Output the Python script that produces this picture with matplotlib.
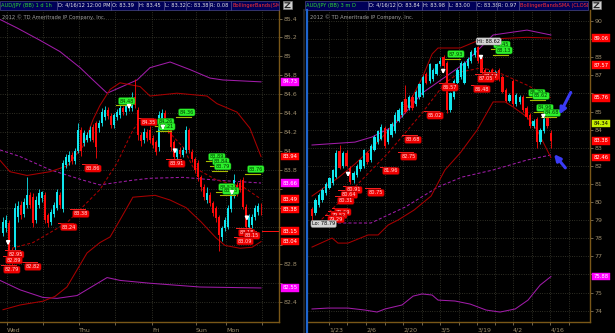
import numpy as np
import matplotlib.pyplot as plt
from matplotlib.patches import Rectangle
from matplotlib.lines import Line2D
from matplotlib.ticker import FuncFormatter

W, H = 615, 333

# ---------------- left chart: AUD/JPY 1 d 1h ----------------
l_open = [83.13, 83.18, 83.24, 82.94, 82.98, 83.30, 83.43, 83.33, 83.43, 83.53,
          83.51, 83.27, 83.43, 83.50, 83.53, 83.32, 83.25, 83.33, 83.40, 83.53,
          83.38, 83.85, 83.88, 83.96, 83.89, 84.00, 84.22, 84.08, 84.12, 84.14,
          84.25, 84.29, 84.24, 84.29, 84.36, 84.43, 84.37, 84.27, 84.36, 84.38,
          84.45, 84.41, 84.45, 84.45, 84.57, 84.43, 84.17, 84.12, 84.20, 84.22,
          84.14, 84.09, 84.04, 84.25, 84.40, 84.27, 84.22, 84.09, 83.93, 84.01,
          83.96, 84.01, 84.22, 83.99, 83.91, 83.87, 83.72, 83.62, 83.48, 83.53,
          83.45, 83.40, 83.30, 83.09, 83.18, 83.20, 83.38, 83.53, 83.64, 83.66,
          83.69, 83.41, 83.19, 83.22, 83.30, 83.35, 83.39]
l_high = [83.30, 83.32, 83.27, 82.97, 83.45, 83.47, 83.47, 83.50, 83.72, 83.56,
          83.55, 83.52, 83.60, 83.58, 83.57, 83.34, 83.38, 83.46, 83.60, 83.56,
          83.90, 83.97, 84.00, 83.99, 84.03, 84.30, 84.25, 84.22, 84.20, 84.26,
          84.28, 84.32, 84.33, 84.45, 84.47, 84.46, 84.40, 84.40, 84.44, 84.48,
          84.47, 84.50, 84.57, 84.62, 84.76, 84.46, 84.20, 84.24, 84.23, 84.26,
          84.17, 84.12, 84.42, 84.44, 84.43, 84.30, 84.25, 84.12, 84.03, 84.04,
          84.04, 84.26, 84.24, 84.02, 83.94, 83.90, 83.75, 83.65, 83.62, 83.56,
          83.47, 83.42, 83.32, 83.21, 83.30, 83.43, 83.62, 83.76, 83.67, 83.70,
          83.72, 83.44, 83.33, 83.33, 83.43, 83.45, 83.45]
l_low = [83.10, 83.14, 82.80, 82.78, 82.95, 83.25, 83.28, 83.30, 83.40, 83.40,
         83.20, 83.24, 83.40, 83.46, 83.24, 83.20, 83.22, 83.30, 83.37, 83.40,
         83.35, 83.82, 83.85, 83.86, 83.86, 83.98, 83.95, 84.05, 84.09, 84.10,
         84.09, 83.92, 84.20, 84.26, 84.33, 84.34, 84.24, 84.24, 84.33, 84.35,
         84.38, 84.38, 84.42, 84.42, 84.45, 84.12, 84.05, 84.08, 84.10, 84.08,
         84.03, 83.96, 84.00, 84.22, 84.24, 84.19, 84.00, 83.90, 83.90, 83.94,
         83.93, 83.98, 83.98, 83.88, 83.77, 83.68, 83.58, 83.48, 83.45, 83.42,
         83.31, 83.25, 82.94, 83.05, 83.15, 83.17, 83.35, 83.50, 83.52, 83.56,
         83.38, 83.13, 83.15, 83.18, 83.27, 83.32, 83.32]
l_close = [83.25, 83.27, 82.93, 82.86, 83.40, 83.42, 83.32, 83.46, 83.53, 83.43,
           83.24, 83.48, 83.55, 83.56, 83.27, 83.24, 83.35, 83.43, 83.56, 83.43,
           83.87, 83.93, 83.96, 83.89, 84.00, 84.22, 84.00, 84.19, 84.17, 84.22,
           84.12, 84.04, 84.29, 84.41, 84.43, 84.37, 84.27, 84.38, 84.41, 84.45,
           84.41, 84.47, 84.54, 84.57, 84.49, 84.17, 84.10, 84.20, 84.14, 84.12,
           84.06, 83.99, 84.38, 84.40, 84.27, 84.22, 84.04, 83.93, 84.01, 83.97,
           84.01, 84.22, 84.01, 83.91, 83.80, 83.72, 83.62, 83.51, 83.55, 83.45,
           83.34, 83.29, 83.11, 83.18, 83.27, 83.40, 83.59, 83.69, 83.55, 83.59,
           83.41, 83.20, 83.30, 83.30, 83.40, 83.42, 83.38]

l_days = ["Wed", "Thu", "Fri", "Sun", "Mon"]
l_day_pos = [1.3, 25.3, 49.7, 64.3, 74.3]
l_half_pos = [13.3, 37.3, 86.3]

# bollinger bands (bar index, price)
l_red_up_i = [-1, 2.3, 8, 15.7, 21.3, 26.7, 30, 32.3, 35.7, 39, 45.7, 49, 58, 68, 71.3, 78, 82.3, 86]
l_red_up_p = [83.90, 83.78, 83.74, 83.78, 83.84, 84.05, 84.33, 84.48, 84.65, 84.72, 84.68, 84.58,
              84.61, 84.58, 84.50, 84.41, 84.24, 83.94]
l_red_mid_i = [3, 10, 21.3, 32.3, 38, 43.3, 46, 50, 54.7, 60, 63.3, 71.3, 80, 86]
l_red_mid_p = [82.97, 83.03, 83.24, 83.59, 83.87, 84.22, 84.33, 84.27, 84.22, 84.04, 83.83,
               83.69, 83.62, 83.49]
l_red_low_i = [0, 5.7, 13.3, 17.3, 21.3, 28, 32.3, 35.7, 39, 43.3, 50.7, 55.7, 61, 66, 71, 74, 79, 83, 86]
l_red_low_p = [82.32, 82.37, 82.41, 82.46, 82.56, 82.92, 83.03, 83.09, 83.27, 83.51, 83.53, 83.48,
               83.40, 83.25, 83.08, 83.00, 82.97, 82.98, 83.04]
l_pur_up_i = [-1, 4.7, 12.3, 19, 25.7, 30, 34.7, 39, 44.7, 49, 55.7, 62.3, 69, 73.3, 86]
l_pur_up_p = [85.39, 85.30, 85.17, 85.05, 84.88, 84.75, 84.61, 84.67, 84.75, 84.88, 84.94, 84.86,
              84.77, 84.75, 84.73]
l_pur_mid_i = [-1, 5.7, 15.7, 26.7, 32.3, 43.3, 49, 60, 71.3, 86]
l_pur_mid_p = [84.01, 83.94, 83.80, 83.69, 83.64, 83.69, 83.71, 83.72, 83.69, 83.66]
l_pur_low_i = [-1, 5.7, 13.3, 18, 24.7, 34.7, 39, 49, 65.7, 86]
l_pur_low_p = [82.63, 82.53, 82.45, 82.44, 82.47, 82.66, 82.63, 82.60, 82.56, 82.55]

l_red_tags = [(27, "83.86"), (23, "83.38"), (19, "83.24"), (1.3, "82.95"), (0.7, "82.89"),
              (0, "82.79"), (7, "82.82"), (45.7, "84.35"), (55, "83.91"), (78.3, "83.18"),
              (80, "83.15"), (77.7, "83.09")]
l_green_tags = [(38.3, "84.48"), (58.3, "84.36"), (51.3, "84.26"), (51.7, "84.21"), (68.3, "83.89"),
                (69.7, "83.84"), (70.3, "83.79"), (81.3, "83.76"), (71.7, "83.57"), (73, "83.53")]
l_arrows = [(1.7, 82.97), (42, 84.41), (53.3, 84.19), (57.3, 83.94), (76.3, 83.50), (81.3, 83.23)]
l_axis_tags = [("84.73", "#ff00ff"), ("83.94", "#ff0000"), ("83.66", "#ff00ff"), ("83.49", "#ff0000"),
               ("83.38", "#ff0000"), ("83.15", "#ff0000"), ("83.04", "#ff0000"), ("82.55", "#ff00ff")]

# ---------------- right chart: AUD/JPY 3 m D ----------------
r_open = [79.60, 79.40, 79.85, 80.10, 80.50, 80.80, 81.05, 81.40, 82.80, 82.00,
          82.70, 81.90, 81.20, 81.50, 81.80, 82.00, 82.70, 82.30, 82.90, 83.30,
          83.50, 84.10, 83.30, 83.70, 83.90, 84.50, 84.80, 85.70, 85.20, 85.80,
          85.40, 85.80, 85.90, 87.10, 86.70, 86.80, 87.10, 87.60, 88.00, 87.70,
          85.10, 85.80, 86.60, 86.90, 86.60, 87.50, 87.80, 88.10, 88.55, 87.90,
          87.30, 86.80, 87.30, 86.90, 87.30, 86.90, 86.20, 85.60, 86.70, 85.40,
          85.50, 85.80, 85.20, 84.80, 84.20, 84.60, 83.30, 83.90, 84.70, 83.84]
r_high = [79.70, 80.20, 80.50, 80.75, 81.10, 81.40, 81.85, 82.90, 83.15, 82.80,
          82.85, 82.00, 81.70, 82.10, 82.40, 82.95, 82.80, 83.20, 83.70, 84.00,
          84.30, 84.20, 84.10, 84.40, 84.95, 85.20, 85.60, 86.46, 85.90, 85.90,
          86.20, 86.60, 87.00, 87.20, 87.70, 87.40, 87.70, 88.00, 88.10, 87.80,
          86.10, 86.80, 87.40, 87.80, 87.80, 88.00, 88.40, 88.55, 88.62, 88.00,
          87.40, 87.30, 87.40, 87.30, 87.40, 87.00, 86.30, 86.00, 86.80, 86.00,
          85.90, 85.90, 85.30, 84.90, 84.60, 84.70, 84.10, 84.70, 84.80, 83.98]
r_low = [78.79, 79.30, 79.75, 80.00, 80.40, 80.70, 80.95, 81.30, 81.80, 81.90,
         81.95, 81.00, 81.05, 81.40, 81.70, 81.90, 82.10, 82.20, 82.80, 83.20,
         83.40, 83.00, 83.20, 83.60, 83.80, 84.40, 84.70, 84.90, 85.10, 85.10,
         85.30, 85.70, 85.80, 86.50, 86.60, 86.70, 87.00, 87.50, 87.40, 84.90,
         85.00, 85.70, 86.50, 86.80, 86.50, 87.40, 87.70, 88.00, 87.70, 87.10,
         86.70, 86.70, 86.80, 86.80, 86.70, 86.00, 85.50, 85.50, 85.30, 85.30,
         85.40, 85.00, 84.60, 84.10, 84.10, 83.00, 83.20, 83.80, 84.10, 83.00]
r_close = [79.20, 80.10, 80.38, 80.66, 81.00, 81.30, 81.75, 82.70, 81.90, 82.70,
           82.00, 81.10, 81.60, 82.00, 82.30, 82.85, 82.20, 83.10, 83.60, 83.90,
           84.15, 83.10, 84.00, 84.30, 84.80, 85.10, 85.50, 85.00, 85.80, 85.20,
           86.10, 86.50, 86.90, 86.60, 87.60, 87.30, 87.60, 87.80, 87.50, 85.10,
           86.00, 86.70, 87.30, 87.70, 87.70, 87.90, 88.30, 88.50, 87.80, 87.20,
           86.80, 87.20, 86.90, 87.20, 86.80, 86.10, 85.60, 85.90, 85.40, 85.90,
           85.80, 85.10, 84.70, 84.20, 84.50, 83.30, 84.00, 84.60, 84.20, 83.38]

r_dates = ["1/23", "2/6", "2/20", "3/5", "3/19", "4/2", "4/16"]
r_date_pos = [4.9, 15.6, 26.3, 37.0, 47.7, 58.1, 68.8]
r_week_pos = [10.25, 20.95, 31.65, 42.35, 52.9, 63.45, 74.1]

r_red_up_i = [0, 2.9, 7.5, 12.4, 17.3, 21.9, 26.9, 31.8, 34.7, 36.4, 42.8, 47.7, 52.3, 62, 69]
r_red_up_p = [80.33, 80.72, 81.33, 82.10, 82.98, 83.92, 85.03, 86.85, 88.18, 88.51, 88.51, 88.90,
              89.01, 89.10, 89.06]
r_red_mid_i = [1.7, 12.4, 22, 31.8, 38.4, 42.8, 48.6, 52.3, 62.1, 69]
r_red_mid_p = [78.84, 80.83, 82.71, 84.92, 86.57, 87.18, 87.40, 87.29, 86.46, 85.76]
r_red_low_i = [0, 5.8, 7.5, 10.4, 16.2, 19.1, 22, 24.9, 29.5, 34.4, 38.4, 42.8, 47.7, 52.3, 55.8,
               58.1, 62.1, 65, 69]
r_red_low_p = [77.51, 78.01, 77.73, 77.73, 78.18, 78.18, 78.73, 79.01, 79.56, 80.33, 81.77, 82.71,
               83.98, 85.53, 85.53, 85.25, 84.70, 83.98, 82.46]
r_pur_up_i = [0, 12.4, 17.3, 23.1, 26.9, 31.8, 36.4, 41.3, 44.2, 52.3, 62.1, 69]
r_pur_up_p = [83.15, 83.31, 83.59, 84.14, 84.92, 86.02, 86.63, 87.29, 87.68, 89.23, 89.50, 89.23]
r_pur_mid_i = [0, 5.2, 17, 26.9, 36.4, 43.4, 52.3, 62.1, 69]
r_pur_mid_p = [78.73, 78.84, 78.84, 79.72, 80.83, 81.38, 81.77, 82.32, 82.60]
r_pur_low_i = [0, 4.6, 10.4, 15.3, 18.8, 21.1, 26, 29.2, 31.8, 34.7, 36.4, 41.3, 45.7, 50.3, 54.3,
               58.7, 62.4, 65.9, 69]
r_pur_low_p = [74.09, 74.14, 74.14, 74.03, 73.92, 74.09, 74.31, 74.80, 74.92, 74.86, 74.58, 74.53,
               74.36, 74.03, 73.92, 74.09, 74.58, 75.41, 75.88]

r_red_tags = [(37.3, "86.57"), (33, "85.02"), (26.6, "83.68"), (25.4, "82.75"), (20.2, "81.96"),
              (15.9, "80.75"), (9.5, "80.91"), (8.2, "80.64"), (7.2, "80.31"), (6.3, "79.69"),
              (5.2, "79.52"), (4.4, "79.29"), (49.1, "87.17"), (47.7, "87.05"), (46.5, "86.48")]
r_green_tags = [(39, "87.93"), (52.3, "88.45"), (52.9, "88.13"), (62.4, "85.79"), (63.6, "85.62"),
                (64.7, "84.96"), (66.8, "84.68")]
r_arrows = [(10.4, 81.22), (37.9, 86.91), (48.8, 87.68), (66.8, 84.42)]
r_hi = (47.7, 88.62, "Hi: 88.62")
r_lo = (0, 78.79, "Lo: 78.79")
r_axis_tags = [("89.06", "#ff0000"), ("87.57", "#ff0000"), ("85.76", "#ff0000"), ("84.34", "#c8f000"),
               ("83.38", "#ff0000"), ("82.46", "#ff0000"), ("75.88", "#ff00ff")]
r_blue = [((75.1, 86.19), (71.1, 84.70)), ((73.7, 81.77), (69.4, 82.76))]

hdr_left = ["AUD/JPY (BB) 1 d 1h", "D: 4/16/12 12:00 PM", "O: 83.39", "H: 83.45", "L: 83.32",
            "C: 83.38", "R: 0.08", "BollingerBands(SMA..."]
hdr_right = ["AUD/JPY (BB) 3 m D", "D: 4/16/12", "O: 83.84", "H: 83.98", "L: 83.00",
             "C: 83.38", "R: 0.97", "BollingerBandsSMA (CLOSE, 2..."]
copyright = "2012 \u00a9 TD Ameritrade IP Company, Inc."

# ---------------- styles ----------------
CYAN, RED = "#10e6ee", "#ff0a0a"
BAND_RED, BAND_PUR = "#a80000", "#a01ca8"
TICK_C, SPINE_C, GRID_C = "#9c8c6c", "#7a5718", "#4a4a3a"


def fx(px):
    return px / W


def fy(py):
    return 1 - py / H


fig = plt.figure(figsize=(W / 100, H / 100), dpi=100, facecolor="black")
axL = fig.add_axes([fx(0), fy(322), fx(279), (322 - 10) / H])
axR = fig.add_axes([fx(308), fy(322), fx(590 - 308), (322 - 10) / H])


def candles(ax, o, h, l, c, w):
    o, h, l, c = map(np.asarray, (o, h, l, c))
    idx = np.arange(len(o))
    col = np.where(c >= o, CYAN, RED)
    ax.vlines(idx, l, h, colors=col, lw=0.6, zorder=3)
    ax.bar(idx, np.maximum(np.abs(c - o), 0.008), bottom=np.minimum(o, c), width=w,
           color=col, zorder=3, linewidth=0)


def bands(ax, lines):
    for xi, yp, col, ls in lines:
        ax.plot(xi, yp, color=col, lw=0.75, ls=ls, zorder=2)


def tags(ax, red, green, length):
    for i, t in red:
        v = float(t)
        ax.plot([i - 0.6, i - 0.6 + length], [v, v], color="#ff2020", lw=0.7, zorder=4)
        ax.annotate(t, (i, v), xytext=(1.2, -1.4), textcoords="offset points", ha="left", va="top",
                    fontsize=3.6, color="#ffe0e0", zorder=5,
                    bbox=dict(boxstyle="round,pad=0.22,rounding_size=0.35", fc="#f00000",
                              ec="#700000", lw=0.3))
    for i, t in green:
        v = float(t)
        ax.plot([i - 0.6, i - 0.6 + length], [v, v], color="#a8bc00", lw=0.8, zorder=4)
        ax.annotate(t, (i, v), xytext=(1.2, 1.4), textcoords="offset points", ha="left", va="bottom",
                    fontsize=3.6, color="#003800", zorder=5,
                    bbox=dict(boxstyle="round,pad=0.22,rounding_size=0.35", fc="#2cf02c",
                              ec="#0a6a0a", lw=0.3))


def arrows(ax, pts):
    for i, p in pts:
        ax.annotate("", xy=(i, p), xytext=(0, 7), textcoords="offset points",
                    arrowprops=dict(arrowstyle="-|>", color="white", lw=1.2, mutation_scale=5),
                    zorder=6)


def axis_tags(ax, items):
    for t, col in items:
        tc = "black" if col == "#c8f000" else "white"
        ax.annotate(t, (1, float(t)), xycoords=ax.get_yaxis_transform(), xytext=(2.6, 0),
                    textcoords="offset points", ha="left", va="center", fontsize=3.8, color=tc,
                    annotation_clip=False, zorder=6,
                    bbox=dict(boxstyle="square,pad=0.25", fc=col, ec=col, lw=0.3))


def style(ax, yticks, hidden, major_pos, major_lab, minor_pos):
    # tick labels that sit under an axis tag are covered in the original
    ax.set_facecolor("black")
    ax.set_yticks(yticks)
    ax.yaxis.set_major_formatter(FuncFormatter(
        lambda v, p: "" if min(abs(v - float(t)) for t, c in hidden[0]) < hidden[1] else "%g" % round(v, 2)))
    ax.yaxis.tick_right()
    ax.set_xticks(major_pos)
    ax.set_xticklabels(major_lab, ha="left")
    ax.set_xticks(minor_pos, minor=True)
    ax.tick_params(axis="both", which="both", colors=TICK_C, labelsize=4.5, length=2, width=0.5, pad=1)
    ax.tick_params(axis="x", which="major", pad=2)
    for s in ("left", "top"):
        ax.spines[s].set_visible(False)
    for s in ("right", "bottom"):
        ax.spines[s].set_color(SPINE_C)
        ax.spines[s].set_linewidth(1.0)
    ax.grid(True, which="both", color=GRID_C, ls=(0, (1, 2)), lw=0.55)
    ax.set_axisbelow(True)
    ax.text(0.008, 0.987, copyright, transform=ax.transAxes, fontsize=3.7, color="#a0a0a0",
            va="top", ha="left")


# ---- left panel
style(axL, np.arange(82.4, 85.41, 0.2), (l_axis_tags, 0.06), l_day_pos, l_days, l_half_pos)
bands(axL, [(l_pur_up_i, l_pur_up_p, BAND_PUR, "-"), (l_pur_mid_i, l_pur_mid_p, BAND_PUR, (0, (3, 2))),
            (l_pur_low_i, l_pur_low_p, BAND_PUR, "-"), (l_red_up_i, l_red_up_p, BAND_RED, "-"),
            (l_red_mid_i, l_red_mid_p, BAND_RED, (0, (3, 2))), (l_red_low_i, l_red_low_p, BAND_RED, "-")])
candles(axL, l_open, l_high, l_low, l_close, 0.68)
axL.plot([86.3, 92], [83.15, 83.15], color="#ff1010", lw=0.7, zorder=4)
tags(axL, l_red_tags, l_green_tags, 5)
arrows(axL, l_arrows)
axis_tags(axL, l_axis_tags)
axL.set_xlim(-1, 92)
axL.set_ylim(82.19, 85.49)

# ---- right panel
style(axR, np.arange(74, 90.5, 1), (r_axis_tags, 0.3), r_date_pos, r_dates, r_week_pos)
bands(axR, [(r_pur_up_i, r_pur_up_p, BAND_PUR, "-"), (r_pur_mid_i, r_pur_mid_p, BAND_PUR, (0, (3, 2))),
            (r_pur_low_i, r_pur_low_p, BAND_PUR, "-"), (r_red_up_i, r_red_up_p, BAND_RED, "-"),
            (r_red_mid_i, r_red_mid_p, BAND_RED, (0, (3, 2))), (r_red_low_i, r_red_low_p, BAND_RED, "-")])
candles(axR, r_open, r_high, r_low, r_close, 0.7)
tags(axR, r_red_tags, r_green_tags, 4.3)
arrows(axR, r_arrows)
for (i, p, t), va in ((r_hi, "bottom"), (r_lo, "center")):
    axR.annotate(t, (i, p), xytext=(0, 1.5 if va == "bottom" else 0), textcoords="offset points",
                 ha="left", va=va, fontsize=3.6, color="black", zorder=6,
                 bbox=dict(boxstyle="round,pad=0.22,rounding_size=0.35", fc="#d4d4d4", ec="#808080", lw=0.3))
for tail, head in r_blue:
    axR.annotate("", xy=head, xytext=tail,
                 arrowprops=dict(arrowstyle="-|>", color="#3a3af5", lw=2.2, mutation_scale=9),
                 annotation_clip=False, zorder=7)
axis_tags(axR, r_axis_tags)
axR.set_xlim(-1.16, 80.3)
axR.set_ylim(73.37, 90.61)

# ---- separators between panels
fig.add_artist(Line2D([fx(304)] * 2, [0, fy(10)], transform=fig.transFigure, color="#2a2a2a", lw=1.2))
fig.add_artist(Line2D([fx(306.8)] * 2, [0, fy(10)], transform=fig.transFigure, color="#1f66d0", lw=1.6))


# ---- header bars
def header(fields, edges, zx):
    y0, y1 = 0.8, 9.6
    for k, t in enumerate(fields):
        x0, x1 = edges[k], edges[k + 1]
        box = Rectangle((fx(x0), fy(y1)), (x1 - x0) / W, (y1 - y0) / H, transform=fig.transFigure,
                        fc="#000058", ec="#5a5a9a", lw=0.4)
        fig.add_artist(box)
        col = "#30d830" if k == 0 else ("#ff3030" if k == len(fields) - 1 else "#e4e4e4")
        txt = fig.text(fx(x0 + 1.2), fy((y0 + y1) / 2), t, color=col, fontsize=3.7, va="center", ha="left")
        txt.set_clip_path(box)
    fig.add_artist(Rectangle((fx(zx), fy(9.2)), 9 / W, 8 / H, transform=fig.transFigure,
                             fc="#cfcfcf", ec="#808080", lw=0.4))
    fig.add_artist(Line2D([fx(zx + 2), fx(zx + 7), fx(zx + 2), fx(zx + 7)],
                          [fy(2.8), fy(2.8), fy(7.6), fy(7.6)], transform=fig.transFigure,
                          color="#202020", lw=0.8))


header(hdr_left, [0, 57, 111, 138, 164, 186, 209, 231, 279], 283)
header(hdr_right, [305, 368, 397, 422, 448, 476, 497, 519, 588], 592)

fig.savefig("out.png", dpi=100, facecolor="black")
